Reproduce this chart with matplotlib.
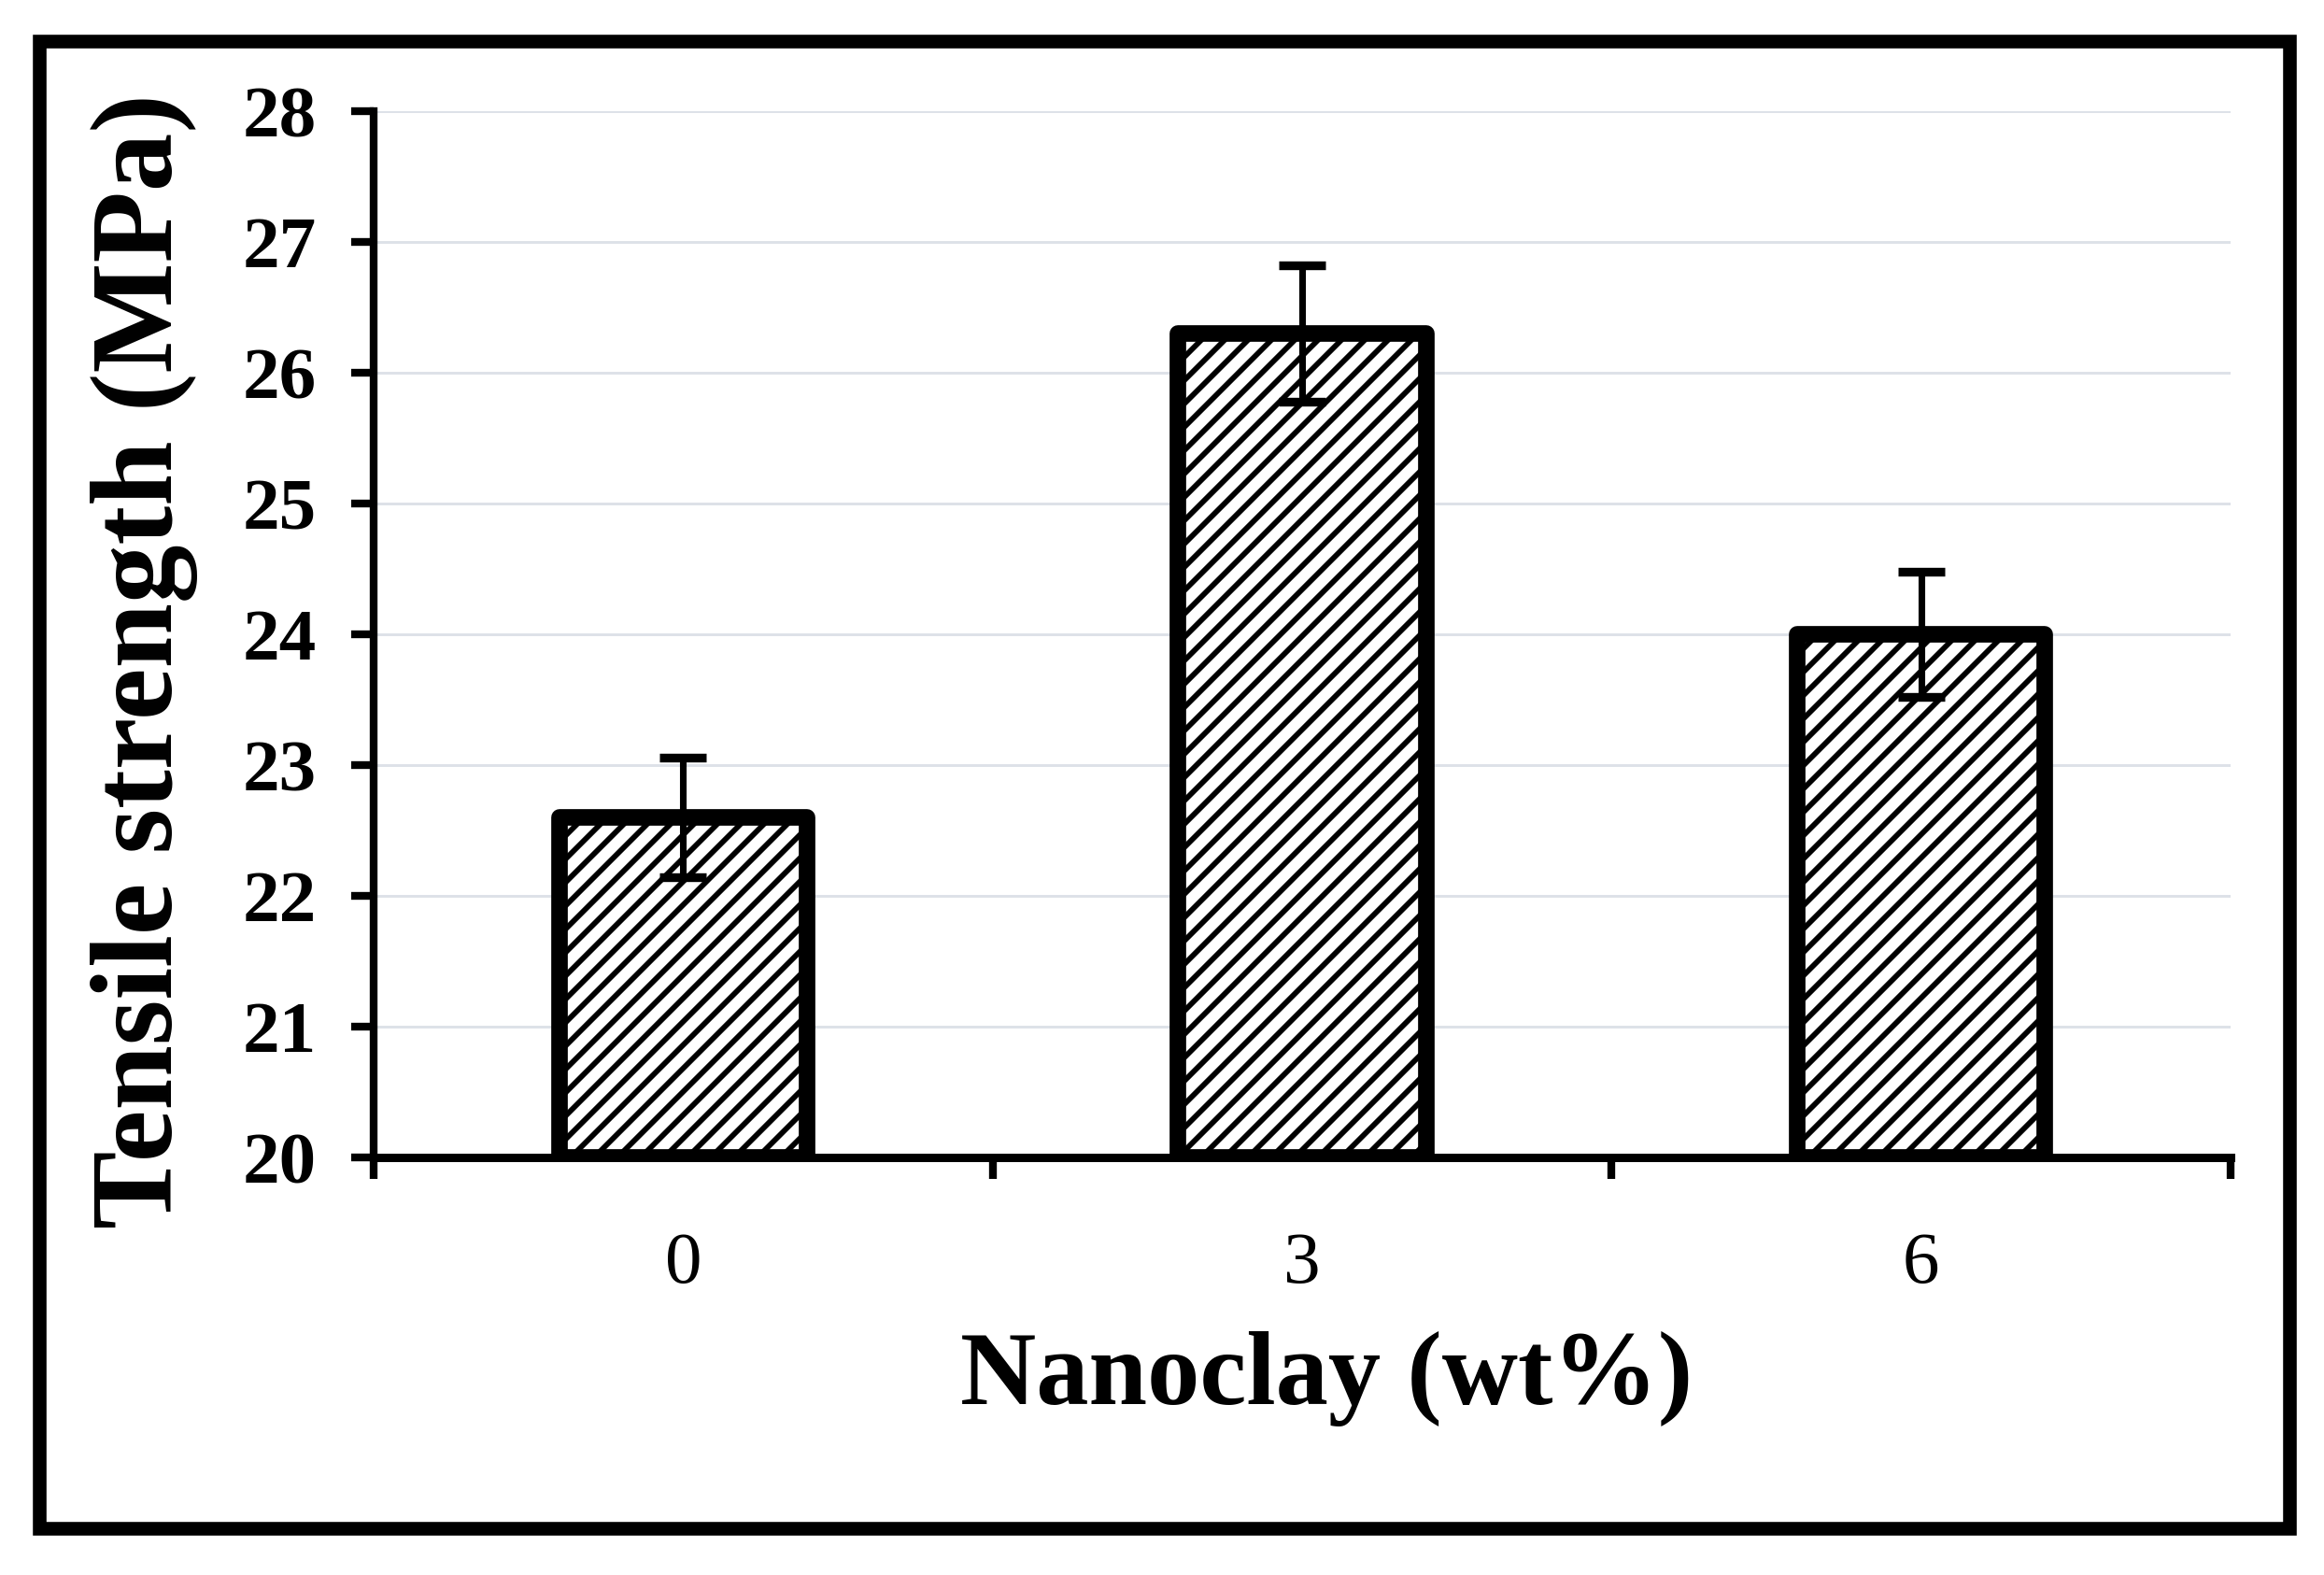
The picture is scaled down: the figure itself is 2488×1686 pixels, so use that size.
import matplotlib
matplotlib.use("Agg")
import matplotlib.pyplot as plt
from matplotlib.patches import Rectangle

# data
categories = ["0", "3", "6"]
strength = [22.6, 26.3, 24.0]
errors = [0.46, 0.52, 0.48]
yticks = [20, 21, 22, 23, 24, 25, 26, 27, 28]

plt.rcParams["font.family"] = ["Liberation Serif", "DejaVu Serif"]
plt.rcParams["hatch.linewidth"] = 2.8

dpi = 150
fig = plt.figure(figsize=(2488 / dpi, 1686 / dpi), dpi=dpi)
ax = fig.add_axes([0.1608, 0.2651, 0.799, 0.6643])

x = list(range(len(categories)))
bars = ax.bar(x, [s - 20 for s in strength], width=0.4, bottom=20,
              color="white", edgecolor="black", linewidth=8.5,
              hatch="//", zorder=3)
for b in bars:
    b.set_joinstyle("round")

ax.errorbar(x, strength, yerr=errors, fmt="none", ecolor="black",
            elinewidth=3.4, capsize=12, capthick=4.5, zorder=4)

# axes
ax.set_xlim(-0.5, 2.5)
ax.set_ylim(20, 28)
ax.set_yticks(yticks)
ax.set_yticklabels([str(t) for t in yticks], fontsize=38, fontweight="bold")
ax.set_xticks(x)
ax.set_xticklabels(categories, fontsize=38)
ax.set_xticks([-0.5, 0.5, 1.5, 2.5], minor=True)
ax.tick_params(axis="x", which="major", length=0, pad=38)
ax.tick_params(axis="x", which="minor", direction="out", length=11, width=4)
ax.tick_params(axis="y", direction="out", length=11.5, width=4, pad=18)

for s in ["top", "right"]:
    ax.spines[s].set_visible(False)
ax.spines["left"].set_linewidth(4)
ax.spines["bottom"].set_linewidth(4.3)
ax.spines["bottom"].set_zorder(5)

ax.grid(axis="y", color="#dde1e8", linewidth=1.4, zorder=0)
ax.set_axisbelow(True)

# labels
fig.text(0.0619, 0.5801, "Tensile strength (MPa)", rotation=90,
         ha="center", va="center", fontsize=60, fontweight="bold")
fig.text(0.5707, 0.1246, "Nanoclay (wt%)", ha="center", va="center",
         fontsize=54, fontweight="bold")

# outer frame
fig.patches.append(Rectangle((0.0169, 0.0297), 0.9682, 0.9442,
                             transform=fig.transFigure, fill=False,
                             edgecolor="black", linewidth=7))

fig.savefig("out.png", dpi=dpi, facecolor="white")
